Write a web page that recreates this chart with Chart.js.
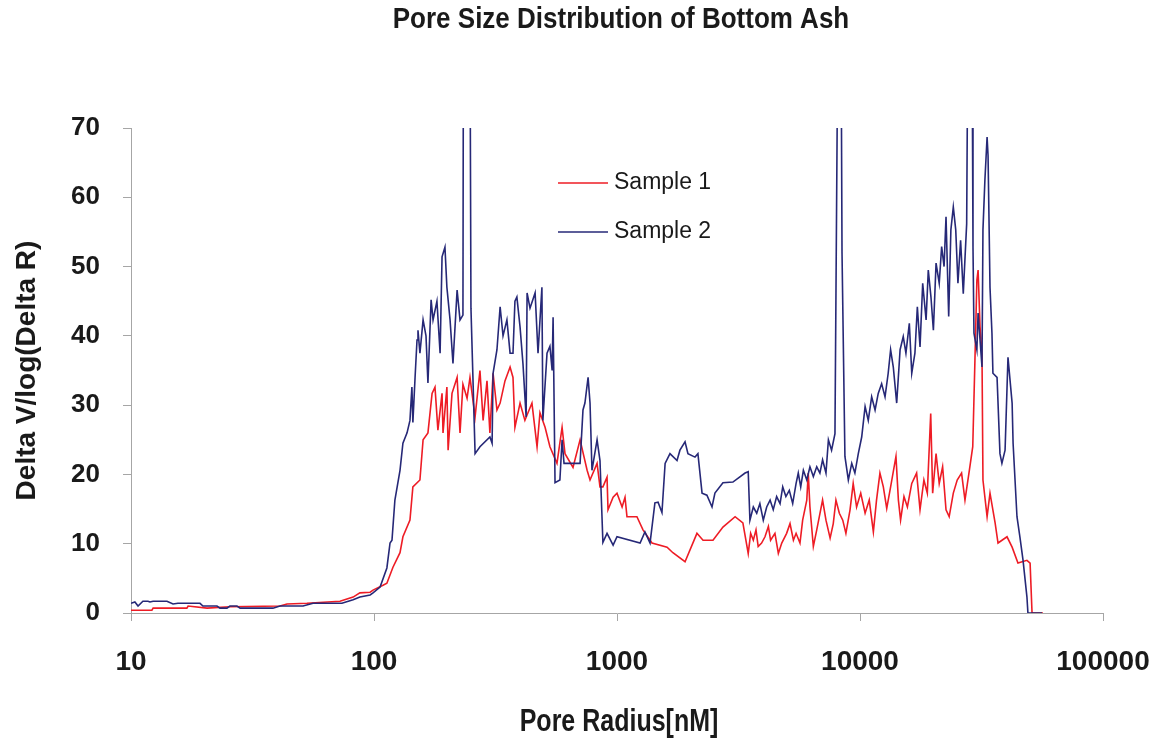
<!DOCTYPE html>
<html>
<head>
<meta charset="utf-8">
<title>Pore Size Distribution of Bottom Ash</title>
<script src="https://cdn.jsdelivr.net/npm/chart.js@4.4.1/dist/chart.umd.min.js"></script>
<style>
  html, body { margin: 0; padding: 0; background: #fff; }
  #wrap { width: 1158px; height: 738px; }
</style>
</head>
<body>
<div id="wrap"><canvas id="pore-chart" width="1158" height="738"></canvas></div>
<script>
// Données (rayon en log10(nM), delta V)
const chartTitle = "Pore Size Distribution of Bottom Ash";
const xTitle = "Pore Radius[nM]";
const yTitle = "Delta V/log(Delta R)";
const seriesNames = ["Sample 1", "Sample 2"];
const xTickValues = [10, 100, 1000, 10000, 100000];

const logRadius1 = [
    1.000, 1.086, 1.091, 1.230, 1.235, 1.313, 1.407, 1.613, 1.642, 1.724,
    1.860, 1.914, 1.942, 1.984, 1.996, 2.037, 2.053, 2.078, 2.107, 2.119,
    2.148, 2.160, 2.189, 2.202, 2.222, 2.239, 2.251, 2.263, 2.280, 2.284,
    2.300, 2.305, 2.321, 2.342, 2.354, 2.366, 2.383, 2.395, 2.416, 2.436,
    2.449, 2.465, 2.477, 2.490, 2.506, 2.519, 2.539, 2.560, 2.572, 2.580,
    2.601, 2.621, 2.650, 2.671, 2.683, 2.704, 2.724, 2.753, 2.774, 2.786,
    2.819, 2.848, 2.877, 2.889, 2.918, 2.930, 2.942, 2.959, 2.963, 2.984,
    3.000, 3.021, 3.033, 3.041, 3.082, 3.107, 3.144, 3.206, 3.230, 3.280,
    3.329, 3.354, 3.395, 3.436, 3.486, 3.518,
    3.540, 3.550, 3.561, 3.572, 3.581, 3.595, 3.609, 3.623, 3.632, 3.650,
    3.664, 3.678, 3.698, 3.712, 3.726, 3.737, 3.753, 3.764, 3.781, 3.787,
    3.794, 3.808, 3.822,
    3.846, 3.860, 3.877, 3.890, 3.901, 3.915, 3.929, 3.942, 3.959, 3.972,
    3.986, 4.003, 4.021, 4.038, 4.055, 4.068, 4.082, 4.096, 4.110, 4.126,
    4.148, 4.158, 4.167, 4.181, 4.195, 4.213, 4.233, 4.247, 4.263, 4.277,
    4.291, 4.299, 4.313, 4.326, 4.340, 4.354, 4.367, 4.384, 4.400, 4.418,
    4.432, 4.450, 4.464,
    4.473, 4.481, 4.486, 4.494, 4.502, 4.506, 4.523, 4.535, 4.556, 4.568,
    4.605, 4.626, 4.650, 4.687, 4.700, 4.708, 4.753
];
const deltaV1 = [
    0.4, 0.4, 0.7, 0.7, 1.0, 0.7, 0.9, 1.0, 1.3, 1.4,
    1.7, 2.3, 2.9, 3.0, 3.3, 4.0, 4.3, 6.6, 8.7, 11,
    13.4, 18.2, 19.2, 25, 26, 31.7, 32.6, 26.4, 31.7, 26,
    32.6, 23.5, 31.7, 34, 26, 33, 31, 34, 28.3, 35,
    27.8, 33.5, 26, 34.6, 29.3, 30.3, 33.5, 35.5, 34, 26.8,
    30.3, 27.8, 30.3, 24, 28.9, 26.8, 24, 21.6, 26.8, 23,
    21, 25, 20.6, 19.2, 21.6, 18.2, 18.2, 19.6, 14.9, 16.7,
    17.3, 15.3, 16.7, 13.9, 13.9, 12, 10.1, 9.5, 8.7, 7.4,
    11.5, 10.5, 10.5, 12.4, 13.9, 13,
    8.6, 11.5, 10.5, 12.0, 9.6, 10.1, 11.0, 12.5, 10.5, 11.5,
    8.6, 10.1, 11.5, 12.9, 10.5, 11.5, 10.1, 13.4, 16.3, 20.2,
    15.3, 9.6, 12.0,
    16.3, 13.4, 10.8, 12.9, 16.3, 14.4, 13.4, 11.5, 14.9, 18.7,
    15.3, 17.3, 14.4, 16.3, 11.7, 16.3, 20.2, 18.2, 15.1, 18.2,
    22.6, 16.3, 13.4, 16.8, 15.3, 18.7, 20.2, 14.9, 19.2, 17.3,
    28.8, 17.3, 23.0, 18.7, 21.1, 14.9, 13.9, 17.3, 19.2, 20.2,
    16.3, 20.6, 24.0,
    36.5, 48, 49.5, 41.3, 37.5, 19.2, 13.9, 17.3, 13, 10.1,
    11, 9.5, 7.2, 7.6, 7.2, 0, 0
];

const logRadius2 = [
    1.000, 1.016, 1.029, 1.049, 1.070, 1.078, 1.091, 1.148, 1.173, 1.193,
    1.284, 1.296, 1.354, 1.366, 1.395, 1.407, 1.436, 1.449, 1.584, 1.613,
    1.708, 1.749, 1.868, 1.914, 1.942, 1.984, 1.996, 2.025, 2.053, 2.066,
    2.074, 2.086, 2.107, 2.119, 2.136, 2.148, 2.156, 2.160, 2.169, 2.177,
    2.181, 2.189, 2.202, 2.214, 2.222, 2.235, 2.243, 2.259, 2.272, 2.280,
    2.292, 2.300, 2.313, 2.325, 2.342, 2.354, 2.366, 2.368, 2.395, 2.399,
    2.416, 2.436, 2.477, 2.486, 2.490, 2.506, 2.519, 2.531, 2.547, 2.560,
    2.572, 2.580, 2.588, 2.601, 2.613, 2.626, 2.630, 2.642, 2.663, 2.675,
    2.691, 2.695, 2.712, 2.724, 2.733, 2.737, 2.745, 2.765, 2.774, 2.782,
    2.848, 2.860, 2.868, 2.881, 2.889, 2.897, 2.918, 2.930, 2.942, 2.959,
    2.984, 3.000, 3.095, 3.115, 3.136, 3.156, 3.169, 3.185, 3.198, 3.218,
    3.247, 3.259, 3.280, 3.292, 3.321, 3.333, 3.350, 3.370, 3.391, 3.403,
    3.436, 3.477, 3.527,
    3.540, 3.547, 3.561, 3.575, 3.588, 3.602, 3.616, 3.630, 3.643, 3.657,
    3.671, 3.682, 3.695, 3.709, 3.723, 3.737, 3.746, 3.756, 3.767, 3.781,
    3.794, 3.808, 3.822, 3.835, 3.846, 3.860, 3.870, 3.883, 3.897,
    3.909, 3.922, 3.926,
    3.938, 3.952, 3.966, 3.979, 3.993, 4.007, 4.021, 4.034, 4.048, 4.062,
    4.075, 4.089, 4.103, 4.116, 4.126, 4.137, 4.151, 4.165, 4.178, 4.189,
    4.203, 4.213, 4.226, 4.236, 4.247, 4.258, 4.272, 4.281, 4.292, 4.302,
    4.313, 4.326, 4.336, 4.346, 4.354, 4.365, 4.374, 4.384, 4.394, 4.403,
    4.414, 4.425, 4.439,
    4.444, 4.461, 4.465, 4.469, 4.481, 4.486, 4.502, 4.506, 4.514, 4.523,
    4.527, 4.535, 4.543, 4.547, 4.564, 4.576, 4.584, 4.597, 4.609, 4.626,
    4.630, 4.646, 4.658, 4.671, 4.687, 4.691, 4.749
];
const deltaV2 = [
    1.4, 1.6, 1.0, 1.7, 1.7, 1.6, 1.7, 1.7, 1.3, 1.4,
    1.4, 1.0, 1.0, 0.7, 0.7, 1.0, 1.0, 0.7, 0.7, 1.0,
    1.0, 1.4, 1.4, 1.9, 2.3, 2.6, 2.9, 3.75, 6.5, 10.1,
    10.5, 16.3, 20.6, 24.5, 26, 27.8, 32.6, 27.5, 34, 39.4,
    40.8, 37.5, 42.3, 40, 33.2, 45.2, 42.3, 45, 37.5, 51.4,
    52.8, 47, 42.3, 36, 46.6, 42.3, 43, 85, 85, 44,
    23, 24, 25.4, 24.5, 34.6, 38, 44.2, 40, 42.3, 37.5,
    37.5, 45, 45.6, 41.3, 36, 28.3, 46.2, 44, 46.2, 37.5,
    47, 27.8, 37.5, 38.5, 35, 42.7, 18.8, 19.2, 25, 21.6,
    21.6, 29.3, 30.3, 34, 30.3, 20.6, 25, 22, 10.2, 11.5,
    9.8, 11, 10.1, 11.7, 10.1, 15.9, 16, 14.5, 21.6, 23,
    22, 23.5, 24.7, 23, 22.5, 23, 17.3, 17, 15.3, 17.3,
    18.8, 18.9, 20.2,
    20.4, 13.4, 15.3, 14.4, 15.8, 13.4, 15.3, 16.3, 14.9, 16.8,
    15.8, 18.2, 16.8, 17.7, 15.8, 18.7, 20.2, 18.2, 20.6, 19.2,
    21.1, 19.7, 21.1, 20.2, 22.1, 20.2, 25.0, 23.5, 25.9,
    85, 85, 52,
    22.6, 19.2, 21.6, 20.2, 23, 25.4, 29.8, 27.8, 31.2, 29.3,
    31.7, 33.1, 31.2, 34.6, 38, 35.5, 30.3, 38, 39.9, 37.5,
    41.8, 34.6, 37.5, 44.2, 38.4, 47.6, 42.3, 49.5, 45.6, 40.8,
    50.5, 47.6, 52.9, 50, 57.2, 42.8, 55.3, 58.6, 55.3, 47.6,
    53.8, 46.1, 56.2,
    85, 85, 52.8, 40.4, 38, 43.3, 35.5, 55.3, 62.5, 68.7,
    66, 47, 40.4, 34.6, 34, 23, 21.6, 23.5, 36.9, 30.3,
    24.5, 13.9, 11, 7.6, 2.3, 0, 0
];

const colors = ["#ee1c25", "#262877"];
const fontFamily = "'Liberation Sans', Arial, Helvetica, sans-serif";
const textColor = "#1a1a1a";
const axisColor = "#a6a6a6";

// Construit les points {x, y} à partir des tableaux
function toPoints(logR, values) {
    return logR.map((l, i) => ({ x: Math.pow(10, l), y: values[i] }));
}

// Texte avec un léger étirement vertical, comme sur l'image d'origine
function drawText(c, text, x, y, font, sx, sy, rot) {
    c.save();
    c.translate(x, y);
    if (rot) c.rotate(rot);
    c.scale(sx, sy);
    c.font = font;
    c.fillText(text, 0, 0);
    c.restore();
}

const textPlugin = {
    id: "chartTexts",
    afterDraw(chart) {
        const c = chart.ctx;
        const area = chart.chartArea;
        const mid = (area.left + area.right) / 2;

        c.save();
        c.fillStyle = textColor;
        c.textAlign = "center";
        c.textBaseline = "middle";
        drawText(c, chartTitle, mid + 4, 20, "bold 26px " + fontFamily, 1, 1.1);
        drawText(c, xTitle, mid + 2, 722, "bold 25px " + fontFamily, 1, 1.25);
        drawText(c, yTitle, 27, (area.top + area.bottom) / 2, "bold 28px " + fontFamily, 1, 1, -Math.PI / 2);

        // Légende dans la zone du graphique
        const legendY = [183, 232];
        seriesNames.forEach((name, i) => {
            c.strokeStyle = colors[i];
            c.lineWidth = 1.6;
            c.beginPath();
            c.moveTo(558, legendY[i]);
            c.lineTo(608, legendY[i]);
            c.stroke();
            c.textAlign = "left";
            drawText(c, name, 614, legendY[i], "23px " + fontFamily, 1, 1);
        });
        c.restore();
    }
};

document.addEventListener("DOMContentLoaded", () => {
    const ctx = document.getElementById("pore-chart").getContext("2d");

    new Chart(ctx, {
        type: "line",
        data: {
            datasets: [
                {
                    label: seriesNames[0],
                    data: toPoints(logRadius1, deltaV1),
                    borderColor: colors[0],
                    borderWidth: 1.6,
                    pointRadius: 0,
                    tension: 0,
                    clip: 0,
                    order: 2
                },
                {
                    label: seriesNames[1],
                    data: toPoints(logRadius2, deltaV2),
                    borderColor: colors[1],
                    borderWidth: 1.6,
                    pointRadius: 0,
                    tension: 0,
                    clip: 0,
                    order: 1
                }
            ]
        },
        options: {
            responsive: false,
            animation: false,
            layout: { padding: { top: 128, left: 0, right: 55, bottom: 0 } },
            plugins: {
                legend: { display: false },
                title: { display: false },
                tooltip: { enabled: false }
            },
            scales: {
                x: {
                    type: "logarithmic",
                    min: 10,
                    max: 100000,
                    afterBuildTicks: (scale) => {
                        scale.ticks = xTickValues.map(v => ({ value: v }));
                    },
                    afterFit: (scale) => {
                        scale.height = 125;
                        scale.paddingLeft = 0;
                        scale.paddingRight = 0;
                    },
                    grid: { drawOnChartArea: false, tickLength: 8, color: axisColor },
                    border: { color: axisColor, width: 1 },
                    ticks: {
                        autoSkip: false,
                        maxRotation: 0,
                        padding: 24,
                        color: textColor,
                        font: { family: fontFamily, size: 28, weight: "bold" },
                        callback: (value) => String(value)
                    }
                },
                y: {
                    min: 0,
                    max: 70,
                    afterFit: (scale) => {
                        scale.width = 131;
                        scale.paddingTop = 0;
                        scale.paddingBottom = 0;
                    },
                    grid: { drawOnChartArea: false, tickLength: 8, color: axisColor },
                    border: { color: axisColor, width: 1 },
                    ticks: {
                        stepSize: 10,
                        padding: 23,
                        color: textColor,
                        font: { family: fontFamily, size: 26, weight: "bold" }
                    }
                }
            }
        },
        plugins: [textPlugin]
    });
});
</script>
</body>
</html>
